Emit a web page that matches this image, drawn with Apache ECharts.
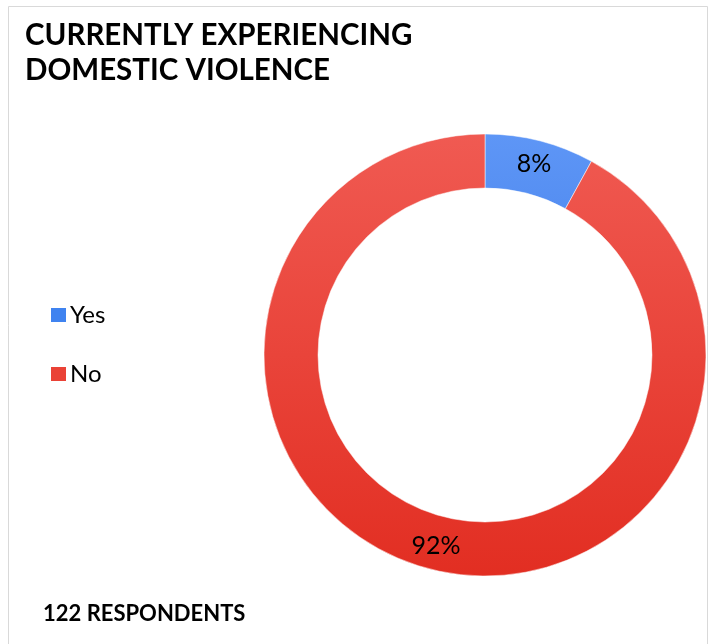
<!DOCTYPE html>
<html><head><meta charset="utf-8">
<script src="https://cdn.jsdelivr.net/npm/echarts@6/dist/echarts.min.js"></script>
<style>html,body{margin:0;padding:0;background:#fff}#c{width:710px;height:644px}</style>
</head><body><div id="c"></div>
<script>
const categories = ['Yes', 'No'];
const values = [8, 92];
const titleText = 'CURRENTLY EXPERIENCING\nDOMESTIC VIOLENCE';
const footText = '122 RESPONDENTS';

const FONT = 'Lato, "Open Sans", sans-serif';
const cx = 485, cy = 355, rOut = 221, rIn = 167;
const grad = (top, bottom) => ({
  type: 'linear', global: true, x: 0, y: cy - rOut, x2: 0, y2: cy + rOut,
  colorStops: [{offset: 0, color: top}, {offset: 1, color: bottom}]
});
const fills = [grad('#5e96f6', '#2869de'), grad('#f05a52', '#e22e22')];
const flat = ['#3f83f0', '#ea4236'];

const chart = echarts.init(document.getElementById('c'));
chart.setOption({
  animation: false,
  title: {
    text: titleText, left: 20, top: 13,
    textStyle: {fontFamily: FONT, fontWeight: 'bold', fontSize: 29.5, lineHeight: 35, color: '#000'}
  },
  legend: {
    orient: 'vertical', left: 44, top: 298, itemGap: 35, itemWidth: 17, itemHeight: 16,
    icon: 'rect',
    data: categories.map((c, i) => ({name: c, itemStyle: {color: flat[i]}})),
    textStyle: {fontFamily: FONT, fontSize: 24, color: '#000', padding: [0, 0, 0, -2]}
  },
  graphic: [
    {type: 'rect', shape: {x: 8.5, y: 6.5, width: 699, height: 650}, style: {fill: 'none', stroke: '#d9d9d9', lineWidth: 1}, silent: true},
    {type: 'text', left: 43, top: 603, style: {text: footText, font: 'bold 22px ' + FONT, fill: '#000'}}
  ],
  series: [{
    type: 'pie', center: [cx, cy], radius: [rIn, rOut], startAngle: 90, clockwise: true,
    label: {show: true, position: 'inside', formatter: '{c}%', fontFamily: FONT, fontSize: 25, color: '#000'},
    labelLine: {show: false},
    itemStyle: {borderColor: '#fff', borderWidth: 0.5},
    data: categories.map((c, i) => ({name: c, value: values[i], itemStyle: {color: fills[i]}}))
  }]
});
</script></body></html>
